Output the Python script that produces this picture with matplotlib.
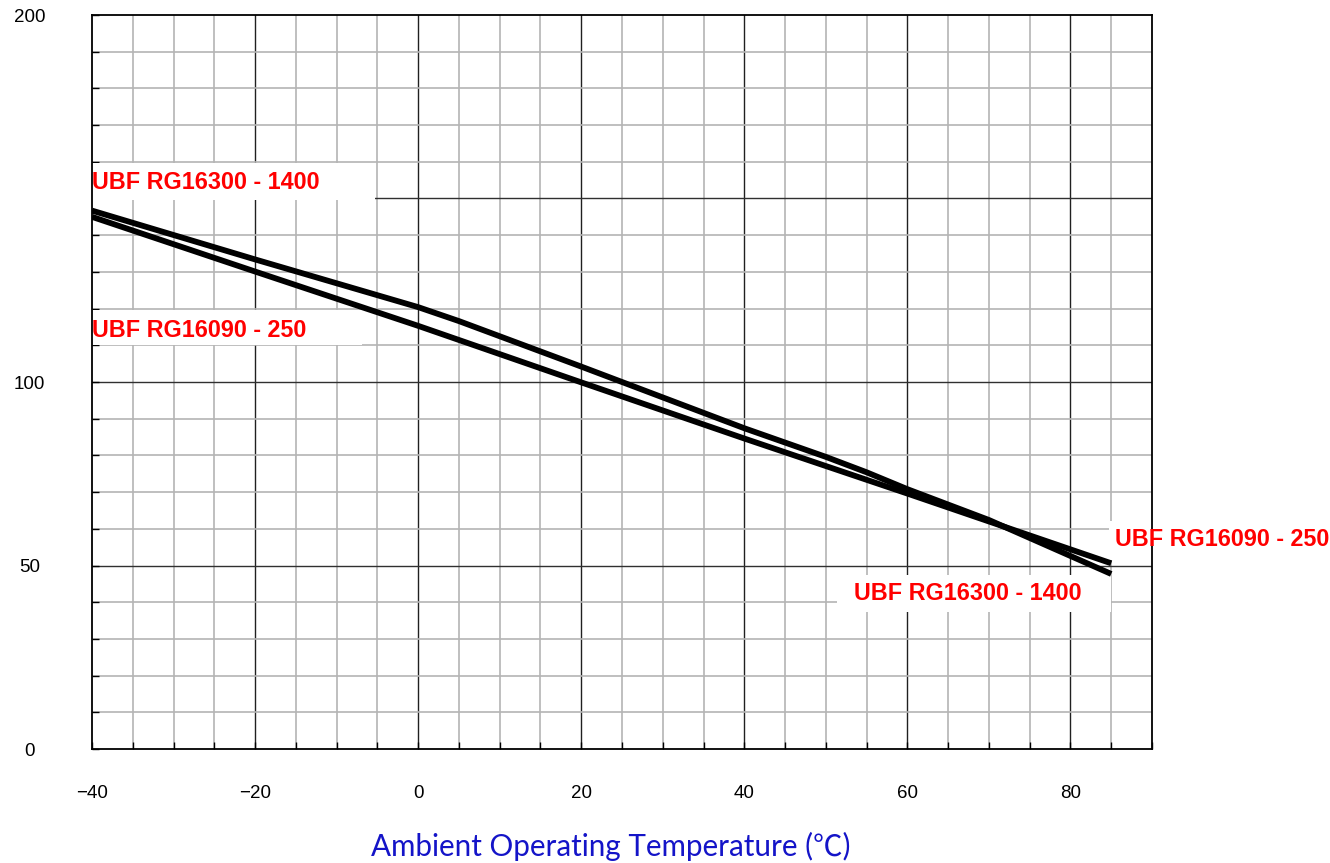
import matplotlib
matplotlib.use("Agg")
import matplotlib.pyplot as plt
import numpy as np
from matplotlib.patches import Rectangle

# data
temp_a = [-40, -20, 0, 5, 20, 40, 50, 55, 60, 70, 85]
rg16300 = [146.7, 133.4, 120.4, 116.6, 104.2, 87.4, 79.6, 75.4, 70.8, 62.4, 47.7]
temp_b = [-40, -20, 0, 20, 40, 60, 85]
rg16090 = [145.0, 130.1, 115.3, 99.9, 84.6, 69.6, 50.6]

xticks = [-40, -20, 0, 20, 40, 60, 80]
yticks = [0, 50, 100, 200]

W, H = 1330, 863
fig = plt.figure(figsize=(W / 100, H / 100), dpi=100)
ax = fig.add_axes([92 / W, (H - 749) / H, (1152 - 92) / W, (749 - 15) / H])
ax.set_xlim(-40, 90)
ax.set_ylim(0, 200)

# grid
for x in np.arange(-35, 90, 5):
    major = x % 20 == 0
    ax.axvline(x, color="#202020" if major else "#b4b4b4", lw=1.0 if major else 1.2, zorder=1)
for y in np.arange(10, 200, 10):
    major = y % 50 == 0
    ax.axhline(y, color="#303030" if major else "#b4b4b4", lw=1.0 if major else 1.2, zorder=1)

for s in ax.spines.values():
    s.set_linewidth(1.3)
    s.set_color("black")

ax.set_xticks(xticks)
ax.set_yticks(yticks)
ax.set_xticks(np.arange(-40, 91, 5), minor=True)
ax.set_yticks(np.arange(0, 201, 10), minor=True)
ax.tick_params(which="both", direction="in", length=5, width=1, color="black")
ax.tick_params(axis="x", which="major", pad=26, labelsize=13.5)
ax.tick_params(axis="y", which="major", pad=45, labelsize=13.5)
for lab in ax.get_yticklabels():
    lab.set_horizontalalignment("center")
for lab in ax.get_xticklabels() + ax.get_yticklabels():
    lab.set_family("Liberation Sans")

# white label boxes
boxes = [(-40, 149.5, 34.7, 10.2), (-40, 110.1, 33.1, 9.5),
         (84.7, 51.5, 28, 10.6), (51.4, 37.3, 33.6, 10.1)]
for bx, by, bw, bh in boxes:
    ax.add_patch(Rectangle((bx, by), bw, bh, facecolor="white", edgecolor="none",
                           zorder=2, clip_on=False))

ax.plot(temp_a, rg16300, color="black", lw=4.2, zorder=3, solid_capstyle="butt")
ax.plot(temp_b, rg16090, color="black", lw=4.2, zorder=3, solid_capstyle="butt")

lab_kw = dict(color="#ff0000", fontsize=16.8, fontweight="bold", family="Liberation Sans",
              va="center", ha="left", zorder=4, clip_on=False)
ax.text(-40, 154.4, "UBF RG16300 - 1400", **lab_kw)
ax.text(-40, 114.0, "UBF RG16090 - 250", **lab_kw)
ax.text(85.5, 57.2, "UBF RG16090 - 250", **lab_kw)
ax.text(53.5, 42.5, "UBF RG16300 - 1400", **lab_kw)

fig.text(611 / W, 1 - 846 / H, "Ambient Operating Temperature (℃)", color="#1414c8",
         fontsize=21.3, family=["Lato", "Noto Sans CJK SC", "DejaVu Sans"],
         ha="center", va="center")

fig.savefig("out.png", dpi=100)
